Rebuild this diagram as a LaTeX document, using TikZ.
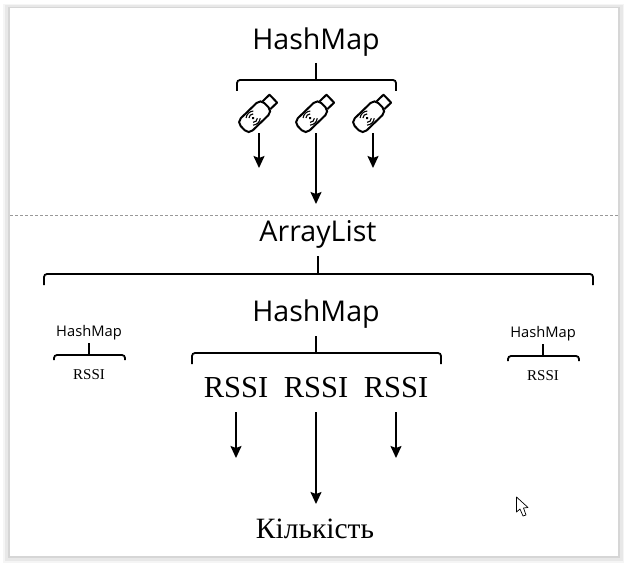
\documentclass[tikz,border=0pt]{standalone}
\usepackage{fontspec}
\setmainfont{Liberation Serif}
\newfontfamily\titlefont{Open Sans}
\usetikzlibrary{arrows.meta}
\tikzset{
  title/.style={font=\titlefont\fontsize{28.6}{32}\selectfont,inner sep=0pt},
  smalltitle/.style={font=\titlefont\fontsize{14.7}{17}\selectfont,inner sep=0pt},
  rssi/.style={font=\fontsize{30.5}{35}\selectfont,inner sep=0pt},
  smallrssi/.style={font=\fontsize{15}{18}\selectfont,inner sep=0pt},
  usbbox/.style={minimum width=41pt,minimum height=40pt,inner sep=0pt},
  bracket/.style={line width=1.8pt,rounded corners=3pt},
  stem/.style={line width=1.8pt},
  arrow/.style={line width=1.7pt,-{Stealth[length=12pt,width=11pt,inset=2pt]}},
}
\begin{document}
\begin{tikzpicture}[x=1pt,y=-1pt]
  \useasboundingbox (0,0) rectangle (626,564);

  % Window with shadow
  \fill[black!4] (3,4) rectangle (624,563);
  \fill[black!9] (5,5) rectangle (623,561);
  \fill[black!16] (8,7) rectangle (620,558);
  \fill[white] (10,8) rectangle (618,556);
  \draw[black!40,dashed,dash pattern=on 3pt off 2pt] (10,215) -- (618,215);

  % Top part
  \node[title] (mapTop) at (316,42) {HashMap};
  \coordinate (stemTop) at (316,63);
  \coordinate (forkTop) at (316,80);
  \draw[stem] (stemTop) -- (forkTop);
  \draw[bracket] (237,91) -- (237,80) -- (396,80) -- (396,91);

  \foreach \name/\xpos in {usbA/259,usbB/316,usbC/373} {
    \node[usbbox] (\name) at (\xpos,113) {};
    \begin{scope}[shift={(\xpos+1,111.5)},rotate=44,line width=2pt]
      \draw[rounded corners=5.5pt] (-24,-8.5) rectangle (9,8.5);
      \draw[line join=round] (9,-5.5) -- (18.5,-5.5) -- (18.5,5.5) -- (9,5.5);
      \fill (-9.5,0) circle (1.4);
      \draw[line width=1.1pt] (-12.5,-3) arc (-135:-45:4.2);
      \draw[line width=1.1pt] (-12.5,3) arc (135:45:4.2);
      \draw[line width=1.1pt] (-14.5,-5) arc (-130:-50:7.8);
      \draw[line width=1.1pt] (-14.5,5) arc (130:50:7.8);
    \end{scope}
  }
  \coordinate (tipA) at (259,168);
  \coordinate (tipB) at (316,204);
  \coordinate (tipC) at (373,168);
  \draw[arrow] (usbA.south) -- (tipA);
  \draw[arrow] (usbB.south) -- (tipB);
  \draw[arrow] (usbC.south) -- (tipC);

  % Bottom part
  \node[title] (list) at (318,234) {ArrayList};
  \coordinate (stemList) at (318,256);
  \coordinate (forkList) at (318,274);
  \draw[stem] (stemList) -- (forkList);
  \draw[bracket] (44,285) -- (44,274) -- (593,274) -- (593,285);

  \node[title] (mapMid) at (316,314) {HashMap};
  \coordinate (stemMid) at (316,336);
  \coordinate (forkMid) at (316,353);
  \draw[stem] (stemMid) -- (forkMid);
  \draw[bracket] (192,364) -- (192,353) -- (441,353) -- (441,364);

  \node[smalltitle] (mapLeft) at (89,332.5) {HashMap};
  \coordinate (stemLeft) at (89,343);
  \coordinate (forkLeft) at (89,355);
  \draw[stem] (stemLeft) -- (forkLeft);
  \draw[bracket] (54,360) -- (54,355) -- (125,355) -- (125,360);
  \node[smallrssi] (rssiLeft) at (89,375) {RSSI};

  \node[smalltitle] (mapRight) at (543,333.5) {HashMap};
  \coordinate (stemRight) at (543,344);
  \coordinate (forkRight) at (543,356);
  \draw[stem] (stemRight) -- (forkRight);
  \draw[bracket] (508,361) -- (508,356) -- (579,356) -- (579,361);
  \node[smallrssi] (rssiRight) at (543,376) {RSSI};

  \node[rssi] (rssiA) at (236,388) {RSSI};
  \node[rssi] (rssiB) at (316,388) {RSSI};
  \node[rssi] (rssiC) at (396,388) {RSSI};
  \node[rssi,font=\fontsize{29.5}{34}\selectfont] (count) at (315,529) {Кількість};
  \coordinate (tipD) at (236,458);
  \coordinate (tipE) at (316,504);
  \coordinate (tipF) at (396,458);
  \draw[arrow] (rssiA.south)+(0,14) -- (tipD);
  \draw[arrow] (rssiB.south)+(0,14) -- (tipE);
  \draw[arrow] (rssiC.south)+(0,14) -- (tipF);

  % Mouse pointer
  \draw[line width=0.7pt,fill=white,line join=round] (516.5,497) -- (516.5,512) -- (520,509) -- (523,516) -- (526,515) -- (523.5,508) -- (528,507.5) -- cycle;
\end{tikzpicture}
\end{document}
